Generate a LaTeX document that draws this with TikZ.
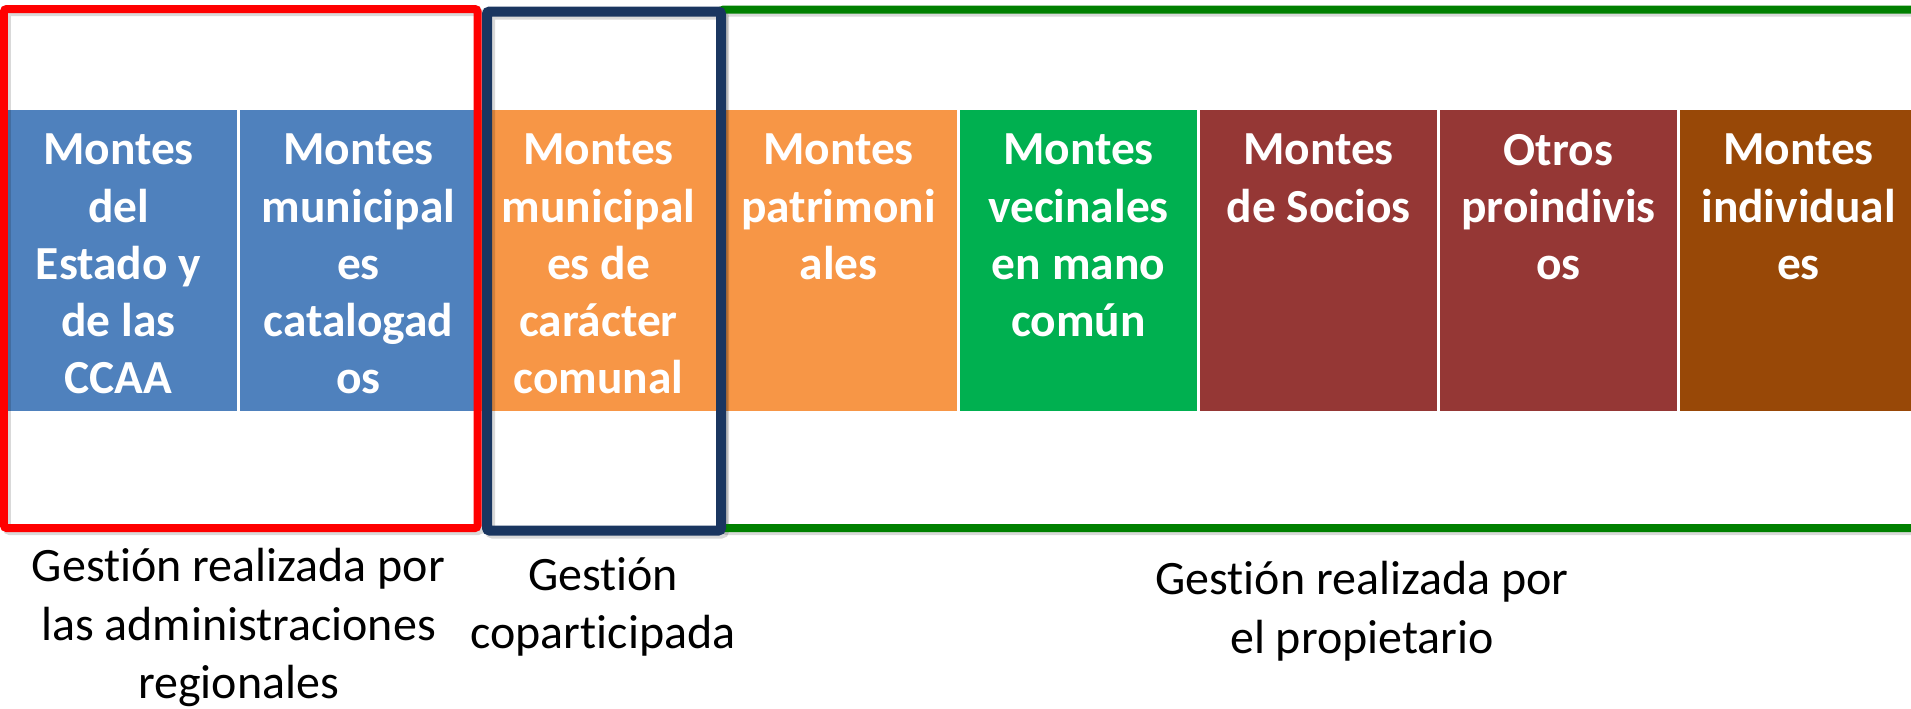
\documentclass[tikz,border=0pt]{standalone}
\usepackage{fontspec}
\setmainfont{Carlito}[Ligatures=NoCommon]
\usepackage{tikz}
\usetikzlibrary{positioning}

\definecolor{azul}{HTML}{4F81BD}
\definecolor{naranja}{HTML}{F79646}
\definecolor{verdecaja}{HTML}{00B050}
\definecolor{granate}{HTML}{953735}
\definecolor{marron}{HTML}{984807}
\definecolor{rojo}{HTML}{FF0000}
\definecolor{marino}{HTML}{1A3660}
\definecolor{verde}{HTML}{008000}

\begin{document}
\begin{tikzpicture}
            [x=0.02cm,y=-0.02cm,
             caja/.style={draw=none, rectangle, inner sep = 0pt, minimum width = 4.74cm, minimum height = 6.02cm},
             rotulo/.style={text=white, inner sep = 0pt, align = center, font=\bfseries\fontsize{27}{32.6}\selectfont},
             pie/.style={inner sep = 0pt, align = center, font=\fontsize{27.3}{33.3}\selectfont},
             marco/.style={line width = 0.16cm, rounded corners = 1.5pt},
             sombra/.style={marco, draw=black, opacity = 0.15}]

            \useasboundingbox (0,0) rectangle (1911,708);
            \clip (0,0) rectangle (1911,708);

            \node[caja,fill=azul] (es) at (118.5,260.5) {};
            \node[caja,fill=azul] (mu) at (358.5,260.5) {};
            \node[caja,fill=naranja] (co) at (598.5,260.5) {};
            \node[caja,fill=naranja] (pa) at (838.5,260.5) {};
            \node[caja,fill=verdecaja] (ve) at (1078.5,260.5) {};
            \node[caja,fill=granate] (so) at (1318.5,260.5) {};
            \node[caja,fill=granate] (ot) at (1558.5,260.5) {};
            \node[caja,fill=marron] (in) at (1798.5,260.5) {};

            \node[rotulo,below=0.48cm of es.north] {Montes\\del\\Estado y\\de las\\CCAA};
            \node[rotulo,below=0.48cm of mu.north] {Montes\\municipal\\es\\catalogad\\os};
            \node[rotulo,below=0.48cm of co.north] {Montes\\municipal\\es de\\carácter\\comunal};
            \node[rotulo,below=0.48cm of pa.north] {Montes\\patrimoni\\ales};
            \node[rotulo,below=0.48cm of ve.north] {Montes\\vecinales\\en mano\\común};
            \node[rotulo,below=0.48cm of so.north] {Montes\\de Socios};
            \node[rotulo,below=0.48cm of ot.north] {Otros\\proindivis\\os};
            \node[rotulo,below=0.48cm of in.north] {Montes\\individual\\es};

            % marcos
            \draw[sombra] (1930,12.5) -- (724,12.5) -- (724,531) -- (1930,531);
            \draw[sombra] (7,12) rectangle (480.5,531);
            \draw[sombra,line width = 0.2cm] (490,14.5) rectangle (724,533.5);
            \draw[marco,draw=verde] (1930,9.5) -- (721,9.5) -- (721,528) -- (1930,528);
            \draw[marco,draw=rojo] (4,9) rectangle (477.5,528);
            \draw[marco,draw=marino,line width = 0.2cm] (487,11.5) rectangle (721,530.5);

            \node[pie] (ga) at (238.5,548) [anchor=north] {Gestión realizada por\\las administraciones\\regionales};
            \node[pie] (gc) at (603,557) [anchor=north] {Gestión\\coparticipada};
            \node[pie] (gp) at (1362,561) [anchor=north] {Gestión realizada por\\el propietario};
        \end{tikzpicture}
\end{document}
